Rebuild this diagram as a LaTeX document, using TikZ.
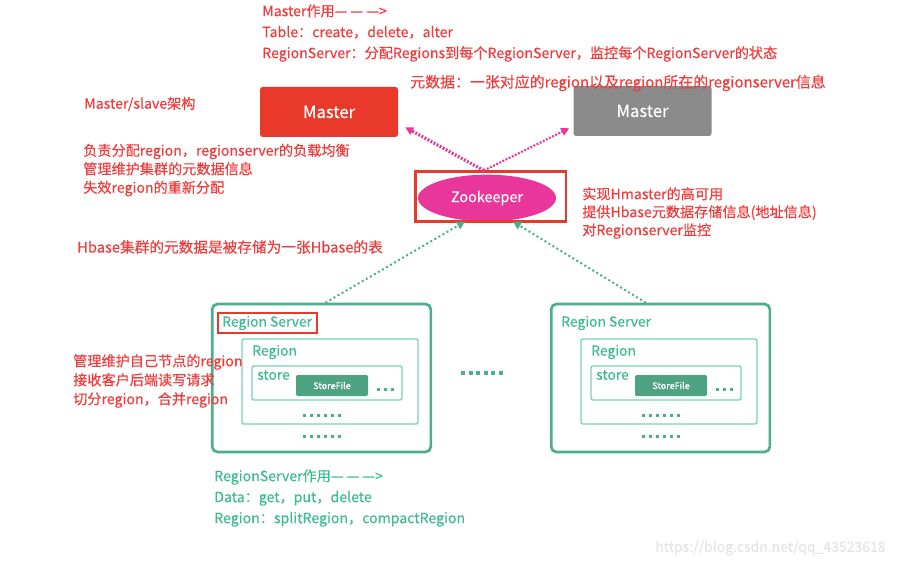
\documentclass[tikz,border=0pt]{standalone}
\usepackage{fontspec}
\setmainfont{Noto Sans CJK SC}[UprightFeatures={FakeBold=0.4}]
\usetikzlibrary{arrows.meta,shapes.geometric}
\definecolor{mastred}{HTML}{E8392B}
\definecolor{mastgray}{HTML}{8A8A8A}
\definecolor{zkpink}{HTML}{E8369B}
\definecolor{notered}{HTML}{F03C3C}
\definecolor{rsgreen}{HTML}{4DAE8B}
\definecolor{rglight}{HTML}{74D2B8}
\definecolor{sfgreen}{HTML}{4EA383}
\definecolor{notegreen}{HTML}{3FBA91}
\definecolor{wmgray}{HTML}{E4E4E4}
\tikzset{
  note/.style={anchor=west, inner sep=0pt, align=left, text=notered},
  masterbox/.style={rounded corners=2pt, minimum width=103.5pt, minimum height=37.5pt, text=white, font=\fontsize{12.5}{14}\selectfont},
  zkarrow/.style={draw=zkpink, dash pattern=on 1.4pt off 1.2pt, -{Triangle[length=6pt,width=6pt]}},
  rsarrow/.style={draw=rsgreen, line width=1.5pt, dash pattern=on 1.5pt off 2pt, -{Triangle[length=6pt,width=6pt]}},
  serverbox/.style={draw=rsgreen, line width=2pt, rounded corners=4pt, minimum width=164pt, minimum height=111pt, inner sep=0pt},
  regionbox/.style={draw=rglight, line width=1pt, rounded corners=1.5pt, minimum width=132pt, minimum height=63.75pt, inner sep=0pt},
  storebox/.style={draw=rglight, line width=1pt, rounded corners=1.5pt, minimum width=112.5pt, minimum height=25.5pt, inner sep=0pt},
  filebox/.style={fill=sfgreen, rounded corners=1pt, minimum width=54pt, minimum height=15.75pt, inner sep=0pt, text=white, font=\fontsize{6.8}{8}\selectfont},
  rslabel/.style={anchor=west, inner sep=0pt, text=notegreen, font=\fontsize{10.4}{12}\selectfont},
}
\begin{document}
\begin{tikzpicture}[x=0.75pt, y=-0.75pt, font=\fontsize{10.6}{12}\selectfont]
\useasboundingbox (0,0) rectangle (908,567);

% masters and zookeeper
\node[masterbox, fill=mastred] (mred) at (329,112) {Master};
\node[masterbox, fill=mastgray] (mgray) at (642.5,111) {Master};
\node[ellipse, fill=zkpink, minimum width=103.5pt, minimum height=35pt, text=white, font=\fontsize{10.8}{12}\selectfont] (zk) at (487,198) {Zookeeper};
\node[draw=mastred, line width=2pt, minimum width=113pt, minimum height=37pt] (zkframe) at (490.5,196.5) {};

\draw[zkarrow, line width=2.4pt] ([xshift=-5pt]zkframe.north) -- ([shift={(7,-10)}]mred.south east);
\draw[zkarrow, line width=1.6pt] ([xshift=-5pt]zkframe.north) -- ([shift={(-4,-8)}]mgray.south west);

% region servers
\foreach \i/\dx in {1/0, 2/339}{
  \begin{scope}[shift={(\dx,0)}]
    \node[serverbox] (rs\i) at (321.5,378) {};
    \node[regionbox] (rg\i) at (330,381.5) {};
    \node[storebox] (st\i) at (327,383) {};
    \node[filebox] (sf\i) at (332,385.5) {StoreFile};
    \node[rslabel] (rsl\i) at (222,323) {Region Server};
    \node[rslabel] (rgl\i) at (252,352) {Region};
    \node[rslabel] (stl\i) at (257,375) {store};
    \foreach \k in {0,1,2} \fill[rsgreen] (377+\k*7,387.5) rectangle ++(3,3);
    \foreach \k in {0,...,5} {
      \fill[rsgreen] (303+\k*7,414) rectangle ++(3,3);
      \fill[rsgreen] (303+\k*7,435) rectangle ++(3,3);
    }
  \end{scope}
}
\node[draw=mastred, line width=1.6pt, minimum width=74pt, minimum height=15pt] (rsframe) at (267.5,323) {};
\foreach \k in {0,...,5} \fill[rsgreen] (461+\k*7.5,371) rectangle ++(4,4);

\draw[rsarrow] ([xshift=3pt]rs1.north) -- ([xshift=-16.5pt]zk.south);
\draw[rsarrow] ([xshift=-11pt]rs2.north) -- ([xshift=19.5pt]zk.south);

% notes
\node[note, font=\fontsize{10.6}{15.75}\selectfont] (mnote) at (262,33) {Master作用— — —>\\Table：create，delete，alter\\RegionServer：分配Regions到每个RegionServer，监控每个RegionServer的状态};
\node[note, font=\fontsize{11.2}{12}\selectfont] (meta) at (410,83) {元数据：一张对应的region以及region所在的regionserver信息};
\node[note] (arch) at (84,104) {Master/slave架构};
\node[note, font=\fontsize{10.6}{13.9}\selectfont] (mjob) at (83,170) {负责分配region，regionserver的负载均衡\\管理维护集群的元数据信息\\失效region的重新分配};
\node[note, font=\fontsize{11}{12}\selectfont] (table) at (77,247) {Hbase集群的元数据是被存储为一张Hbase的表};
\node[note, font=\fontsize{10.6}{13.5}\selectfont] (zkjob) at (582,213) {实现Hmaster的高可用\\提供Hbase元数据存储信息(地址信息)\\对Regionserver监控};
\node[note, font=\fontsize{10.6}{14.25}\selectfont] (rsjob) at (73,381) {管理维护自己节点的region\\接收客户后端读写请求\\切分region，合并region};
\node[note, text=notegreen, font=\fontsize{10.6}{15.75}\selectfont] (rsnote) at (214,498) {RegionServer作用— — —>\\Data：get，put，delete\\Region：splitRegion，compactRegion};
\node[anchor=west, inner sep=0pt, text=wmgray, font=\fontsize{10.5}{12}\selectfont] (wm) at (655,548) {https://blog.csdn.net/qq\_43523618};
\end{tikzpicture}
\end{document}
